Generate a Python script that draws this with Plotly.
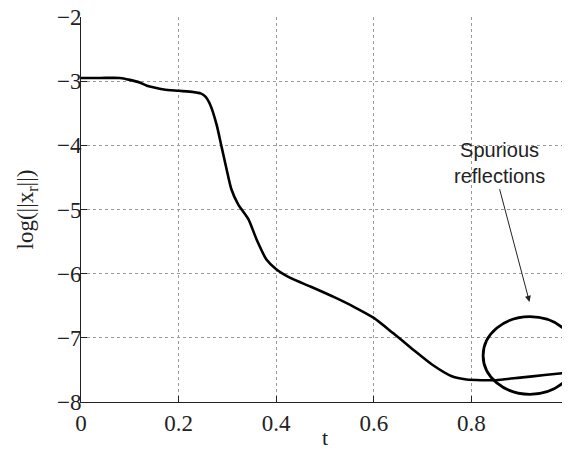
import plotly.graph_objects as go

# Curve data
t_vals = [0, 0.04, 0.08, 0.10, 0.12, 0.135, 0.15, 0.17, 0.20, 0.23, 0.245, 0.255,
          0.265, 0.278, 0.288, 0.298, 0.308, 0.322, 0.343, 0.36, 0.38, 0.40, 0.43,
          0.47, 0.52, 0.56, 0.60, 0.64, 0.68, 0.72, 0.76, 0.79, 0.82, 0.85, 0.90,
          0.95, 1.0]
log_vals = [-2.95, -2.95, -2.95, -2.98, -3.02, -3.07, -3.10, -3.13, -3.15, -3.17,
            -3.19, -3.24, -3.37, -3.68, -4.02, -4.36, -4.68, -4.92, -5.15, -5.47,
            -5.78, -5.93, -6.07, -6.20, -6.37, -6.52, -6.69, -6.93, -7.18, -7.42,
            -7.60, -7.65, -7.66, -7.66, -7.62, -7.58, -7.54]

x_ticks = [0, 0.2, 0.4, 0.6, 0.8, 1]
x_tick_labels = ["0", "0.2", "0.4", "0.6", "0.8", "1"]
y_ticks = [-8, -7, -6, -5, -4, -3, -2]
y_tick_labels = ["\u22128", "\u22127", "\u22126", "\u22125", "\u22124", "\u22123", "\u22122"]

# annotation geometry (data units)
ellipse_center = [0.92, -7.275]
ellipse_radii = [0.096, 0.605]
arrow_tail = [0.857, -4.66]
arrow_head = [0.919, -6.44]
label_pos = [0.857, -4.28]
label_text = "Spurious<br>reflections"

SERIF = "Times New Roman, Liberation Serif, Times, serif"
SANS = "Liberation Sans, Arial, sans-serif"

fig = go.Figure()
fig.add_trace(go.Scatter(x=t_vals, y=log_vals, mode="lines",
                         line=dict(color="black", width=2.6, shape="spline", smoothing=0.6),
                         showlegend=False, hoverinfo="skip"))

fig.add_shape(type="circle", xref="x", yref="y",
              x0=ellipse_center[0] - ellipse_radii[0], x1=ellipse_center[0] + ellipse_radii[0],
              y0=ellipse_center[1] - ellipse_radii[1], y1=ellipse_center[1] + ellipse_radii[1],
              line=dict(color="black", width=2.8))

fig.add_annotation(x=arrow_head[0], y=arrow_head[1], ax=arrow_tail[0], ay=arrow_tail[1],
                   xref="x", yref="y", axref="x", ayref="y", text="", showarrow=True,
                   arrowhead=2, arrowsize=1.2, arrowwidth=1, arrowcolor="#222")
fig.add_annotation(x=label_pos[0], y=label_pos[1], xref="x", yref="y", text=label_text,
                   showarrow=False, font=dict(family=SANS, size=20, color="#222"))

axis_style = dict(automargin=False, ticklabeloverflow="allow",
                  showline=True, linecolor="#222", linewidth=1, mirror=False,
                  ticks="inside", ticklen=6, tickcolor="#222",
                  showgrid=True, gridcolor="#9a9a9a", griddash="dot", gridwidth=1,
                  zeroline=False,
                  tickfont=dict(family=SERIF, size=23, color="#222"))

fig.update_layout(
    width=562, height=442,
    margin=dict(l=73, r=1, t=9, b=48, autoexpand=False),
    paper_bgcolor="white", plot_bgcolor="white",
    font=dict(family=SERIF, size=22, color="#222"),
    xaxis=dict(range=[0, 1], tickmode="array", tickvals=x_ticks, ticktext=x_tick_labels,
               title=dict(text="t", font=dict(family=SERIF, size=22, color="#222"), standoff=3),
               **axis_style),
    yaxis=dict(range=[-8, -2], tickmode="array", tickvals=y_ticks, ticktext=y_tick_labels,
               ticklabelstandoff=-6,
               title=dict(text="log(||x<sub>r</sub>||)",
                          font=dict(family=SERIF, size=23, color="#222"), standoff=16),
               **axis_style),
)

fig.write_html("out.html")
